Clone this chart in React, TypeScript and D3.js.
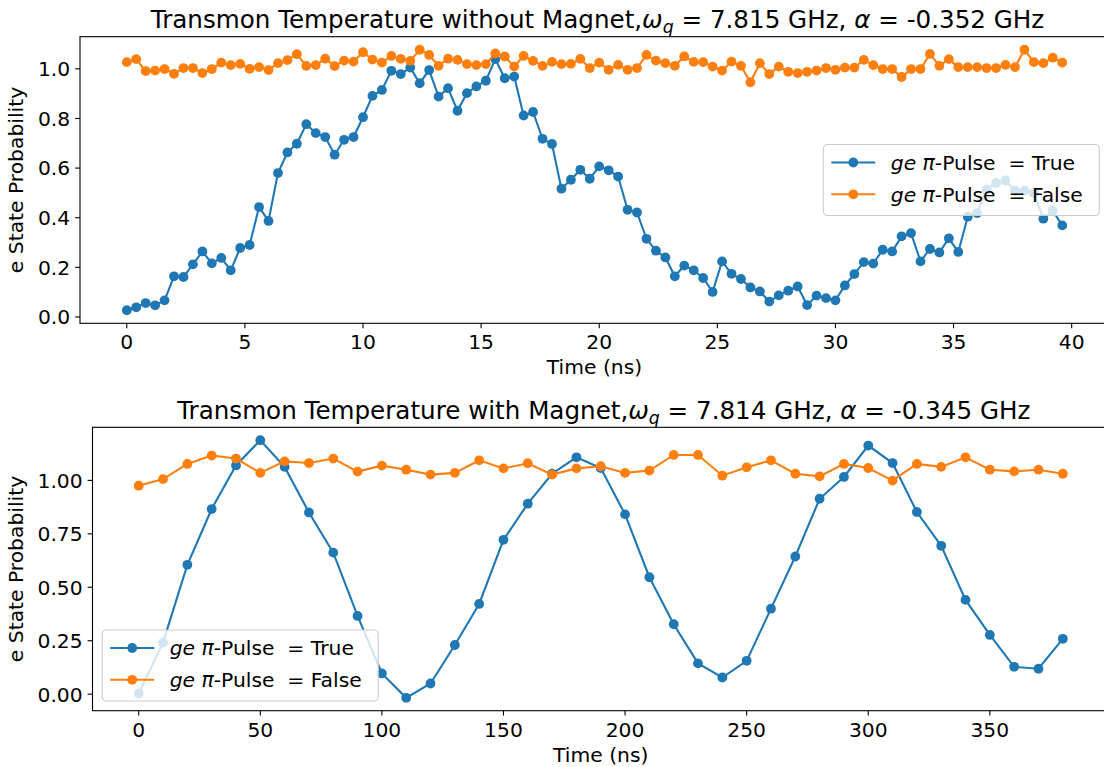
import React from 'react';
import * as d3 from 'd3';

const BLUE = '#1f77b4';
const ORANGE = '#ff7f0e';
const FONT = '"DejaVu Sans", sans-serif';

// without magnet: pulse length 0 .. 39.6 ns in 0.4 ns steps
const noMagnetTime = d3.range(100).map((i) => +(i * 0.4).toFixed(1));
const noMagnetPulse = [
  0.027, 0.039, 0.056, 0.047, 0.067, 0.164, 0.161, 0.212, 0.264, 0.216,
  0.238, 0.188, 0.278, 0.290, 0.443, 0.387, 0.580, 0.663, 0.698, 0.777,
  0.741, 0.725, 0.654, 0.714, 0.725, 0.805, 0.891, 0.915, 0.992, 0.979,
  1.005, 0.942, 0.995, 0.888, 0.922, 0.831, 0.902, 0.929, 0.952, 1.039,
  0.962, 0.969, 0.812, 0.826, 0.718, 0.697, 0.517, 0.553, 0.593, 0.557,
  0.607, 0.591, 0.566, 0.432, 0.421, 0.315, 0.267, 0.240, 0.164, 0.207,
  0.188, 0.157, 0.101, 0.224, 0.174, 0.153, 0.119, 0.103, 0.062, 0.087,
  0.106, 0.123, 0.048, 0.086, 0.076, 0.067, 0.127, 0.173, 0.221, 0.215,
  0.271, 0.264, 0.325, 0.338, 0.224, 0.274, 0.260, 0.317, 0.262, 0.404,
  0.419, 0.513, 0.540, 0.550, 0.509, 0.509, 0.499, 0.396, 0.428, 0.369,
];
const noMagnetNoPulse = [
  1.027, 1.039, 0.991, 0.993, 0.999, 0.980, 1.003, 1.003, 0.983, 0.999,
  1.025, 1.015, 1.020, 1.000, 1.007, 0.995, 1.023, 1.035, 1.059, 1.012,
  1.015, 1.041, 1.011, 1.033, 1.029, 1.067, 1.037, 1.025, 1.052, 1.040,
  1.032, 1.077, 1.056, 1.012, 1.041, 1.036, 1.019, 1.015, 1.019, 1.062,
  1.050, 1.009, 1.052, 1.032, 1.012, 1.028, 1.019, 1.020, 1.040, 1.003,
  1.025, 0.996, 1.016, 0.996, 1.003, 1.056, 1.033, 1.023, 1.012, 1.050,
  1.028, 1.027, 1.009, 0.993, 1.029, 1.012, 0.946, 1.023, 0.979, 1.009,
  0.988, 0.983, 0.988, 0.993, 1.003, 0.996, 1.005, 1.005, 1.036, 1.015,
  0.999, 0.999, 0.967, 0.999, 0.999, 1.060, 1.012, 1.039, 1.007, 1.007,
  1.007, 1.003, 1.003, 1.016, 1.007, 1.077, 1.027, 1.023, 1.045, 1.025,
];

// with magnet: pulse length 0 .. 380 ns in 10 ns steps
const magnetTime = d3.range(0, 390, 10);
const magnetPulse = [
  0.003, 0.241, 0.605, 0.866, 1.070, 1.188, 1.063, 0.850, 0.662, 0.366,
  0.097, -0.017, 0.050, 0.230, 0.422, 0.722, 0.891, 1.031, 1.108, 1.058,
  0.841, 0.547, 0.327, 0.144, 0.078, 0.156, 0.400, 0.644, 0.914, 1.016,
  1.163, 1.081, 0.852, 0.694, 0.441, 0.277, 0.128, 0.119, 0.259,
];
const magnetNoPulse = [
  0.975, 1.006, 1.077, 1.116, 1.102, 1.035, 1.089, 1.081, 1.102, 1.041,
  1.069, 1.050, 1.027, 1.035, 1.094, 1.056, 1.080, 1.027, 1.056, 1.066,
  1.035, 1.046, 1.119, 1.119, 1.022, 1.061, 1.094, 1.031, 1.019, 1.077,
  1.058, 0.999, 1.077, 1.063, 1.108, 1.050, 1.042, 1.050, 1.031,
];

const noMagnetXTicks = [0, 5, 10, 15, 20, 25, 30, 35, 40];
const noMagnetYTicks = [0, 0.2, 0.4, 0.6, 0.8, 1.0];
const magnetXTicks = [0, 50, 100, 150, 200, 250, 300, 350];
const magnetYTicks = [0, 0.25, 0.5, 0.75, 1.0];

const legendLabels = ['True', 'False'];

const padded = (vals: number[]): [number, number] => {
  const [lo, hi] = d3.extent(vals) as [number, number];
  const m = (hi - lo) * 0.05;
  return [lo - m, hi + m];
};

interface PanelProps {
  box: { left: number; right: number; top: number; bottom: number };
  time: number[];
  pulse: number[];
  noPulse: number[];
  xTicks: number[];
  yTicks: number[];
  yFmt: (v: number) => string;
  kind: string;
  freq: string;
  anh: string;
  legendAt: 'right' | 'lowerleft';
}

const Panel: React.FC<PanelProps> = ({ box, time, pulse, noPulse, xTicks, yTicks, yFmt, kind, freq, anh, legendAt }) => {
  const x = d3.scaleLinear().domain(padded(time)).range([box.left, box.right]);
  const y = d3.scaleLinear().domain(padded([...pulse, ...noPulse])).range([box.bottom, box.top]);
  const line = d3.line<number>().x((_, i) => x(time[i]));
  const series = [
    { vals: pulse, color: BLUE },
    { vals: noPulse, color: ORANGE },
  ];
  const fs = 20.3;
  const tick = 4.9;
  const midX = (box.left + box.right) / 2;
  const midY = (box.top + box.bottom) / 2;

  const lw = 276;
  const lh = 71;
  const pad = 9.7;
  const lx = legendAt === 'right' ? box.right - pad - lw : box.left + pad;
  const ly = legendAt === 'right' ? midY - lh / 2 : box.bottom - pad - lh;

  return (
    <g fontFamily={FONT}>
      {/* title */}
      <text x={midX + 3} y={box.top - 8.5} fontSize={24.6} textAnchor="middle" style={{ whiteSpace: 'pre' }}>
        {`Transmon Temperature ${kind} Magnet,`}
        <tspan fontStyle="italic">ω</tspan>
        <tspan fontStyle="italic" fontSize={17.2} dy={5}>q</tspan>
        <tspan dy={-5}>{` = ${freq} GHz, `}</tspan>
        <tspan fontStyle="italic">α</tspan>
        {` = ${anh} GHz`}
      </text>

      {/* axes ticks */}
      {xTicks.map((t) => (
        <g key={'x' + t}>
          <line x1={x(t)} x2={x(t)} y1={box.bottom} y2={box.bottom + tick} stroke="#000" strokeWidth={1.1} />
          <text x={x(t)} y={box.bottom + 25.8} fontSize={fs} textAnchor="middle">{t}</text>
        </g>
      ))}
      {yTicks.map((t) => (
        <g key={'y' + t}>
          <line x1={box.left - tick} x2={box.left} y1={y(t)} y2={y(t)} stroke="#000" strokeWidth={1.1} />
          <text x={box.left - tick - 4.9} y={y(t) + 7.4} fontSize={fs} textAnchor="end">{yFmt(t)}</text>
        </g>
      ))}
      <text x={midX} y={box.bottom + 51} fontSize={fs} textAnchor="middle">Time (ns)</text>
      <text transform={`translate(23,${midY}) rotate(-90)`} fontSize={fs} textAnchor="middle">e State Probability</text>

      {/* data */}
      {series.map((s) => (
        <g key={s.color}>
          <path d={line.y((v) => y(v))(s.vals) || ''} fill="none" stroke={s.color} strokeWidth={2.1} />
          {s.vals.map((v, i) => (
            <circle key={i} cx={x(time[i])} cy={y(v)} r={4.9} fill={s.color} />
          ))}
        </g>
      ))}

      {/* spines */}
      <rect x={box.left} y={box.top} width={box.right - box.left} height={box.bottom - box.top} fill="none" stroke="#000" strokeWidth={1.1} />

      {/* legend */}
      <g transform={`translate(${lx},${ly})`}>
        <rect width={lw} height={lh} rx={4} fill="#fff" fillOpacity={0.8} stroke="#ccc" strokeWidth={1.1} />
        {series.map((s, i) => (
          <g key={s.color} transform={`translate(0,${18 + i * 31.8})`}>
            <line x1={8} x2={52} y1={0} y2={0} stroke={s.color} strokeWidth={2.1} />
            <circle cx={30} cy={0} r={4.9} fill={s.color} />
            <text x={67.5} y={7.3} fontSize={fs} style={{ whiteSpace: 'pre' }}>
              <tspan fontStyle="italic">ge</tspan>
              {' '}
              <tspan fontStyle="italic">π</tspan>
              {`-Pulse  = ${legendLabels[i]}`}
            </text>
          </g>
        ))}
      </g>
    </g>
  );
};

const App: React.FC = () => (
  <svg width={1104} height={767} style={{ position: 'absolute', left: 0, top: 0, background: '#fff' }}>
    <Panel
      box={{ left: 80, right: 1109, top: 36.7, bottom: 323.3 }}
      time={noMagnetTime}
      pulse={noMagnetPulse}
      noPulse={noMagnetNoPulse}
      xTicks={noMagnetXTicks}
      yTicks={noMagnetYTicks}
      yFmt={d3.format('.1f')}
      kind="without"
      freq="7.815"
      anh="-0.352"
      legendAt="right"
    />
    <Panel
      box={{ left: 92.5, right: 1109, top: 427.3, bottom: 710.7 }}
      time={magnetTime}
      pulse={magnetPulse}
      noPulse={magnetNoPulse}
      xTicks={magnetXTicks}
      yTicks={magnetYTicks}
      yFmt={d3.format('.2f')}
      kind="with"
      freq="7.814"
      anh="-0.345"
      legendAt="lowerleft"
    />
  </svg>
);

export default App;
